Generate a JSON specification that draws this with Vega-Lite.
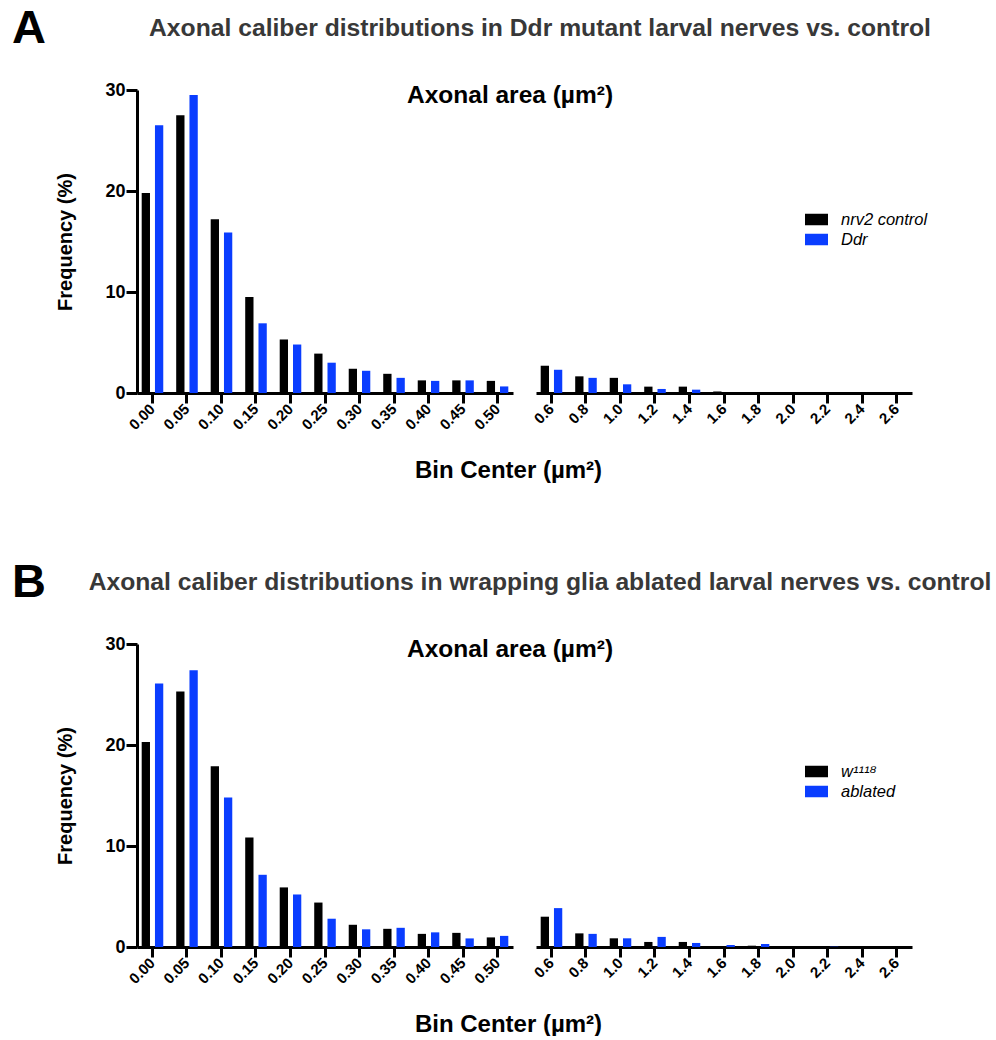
{
  "$schema": "https://vega.github.io/schema/vega-lite/v6.json",
  "padding": {"left": 12, "top": 5, "right": 0, "bottom": 0},
  "background": "white",
  "config": {
    "view": {"stroke": null},
    "font": "Liberation Sans",
    "axis": {"grid": false, "domainColor": "black", "domainWidth": 3, "tickColor": "black", "tickWidth": 3, "tickSize": 10, "labelFont": "Liberation Sans", "labelFontWeight": "bold", "labelColor": "black", "titleFont": "Liberation Sans", "titleFontWeight": "bold", "titleColor": "black"},
    "legend": {"labelFont": "Liberation Sans", "labelFontStyle": "italic", "labelFontSize": 16.5, "labelColor": "black", "symbolType": "M-1,-0.5H1V0.5H-1Z", "symbolSize": 529, "symbolStrokeWidth": 0, "rowPadding": 0, "labelOffset": 13, "padding": 0}
  },
  "datasets": {
    "A_left": [
      {"bin": "0.00", "group": "nrv2 control", "freq": 19.8}, {"bin": "0.00", "group": "Ddr", "freq": 26.5},
      {"bin": "0.05", "group": "nrv2 control", "freq": 27.5}, {"bin": "0.05", "group": "Ddr", "freq": 29.5},
      {"bin": "0.10", "group": "nrv2 control", "freq": 17.2}, {"bin": "0.10", "group": "Ddr", "freq": 15.9},
      {"bin": "0.15", "group": "nrv2 control", "freq": 9.5}, {"bin": "0.15", "group": "Ddr", "freq": 6.9},
      {"bin": "0.20", "group": "nrv2 control", "freq": 5.3}, {"bin": "0.20", "group": "Ddr", "freq": 4.8},
      {"bin": "0.25", "group": "nrv2 control", "freq": 3.9}, {"bin": "0.25", "group": "Ddr", "freq": 3.0},
      {"bin": "0.30", "group": "nrv2 control", "freq": 2.4}, {"bin": "0.30", "group": "Ddr", "freq": 2.2},
      {"bin": "0.35", "group": "nrv2 control", "freq": 1.9}, {"bin": "0.35", "group": "Ddr", "freq": 1.5},
      {"bin": "0.40", "group": "nrv2 control", "freq": 1.25}, {"bin": "0.40", "group": "Ddr", "freq": 1.2},
      {"bin": "0.45", "group": "nrv2 control", "freq": 1.25}, {"bin": "0.45", "group": "Ddr", "freq": 1.25},
      {"bin": "0.50", "group": "nrv2 control", "freq": 1.2}, {"bin": "0.50", "group": "Ddr", "freq": 0.65}
    ],
    "A_right": [
      {"bin": "0.6", "group": "nrv2 control", "freq": 2.7}, {"bin": "0.6", "group": "Ddr", "freq": 2.3},
      {"bin": "0.8", "group": "nrv2 control", "freq": 1.65}, {"bin": "0.8", "group": "Ddr", "freq": 1.5},
      {"bin": "1.0", "group": "nrv2 control", "freq": 1.5}, {"bin": "1.0", "group": "Ddr", "freq": 0.86},
      {"bin": "1.2", "group": "nrv2 control", "freq": 0.63}, {"bin": "1.2", "group": "Ddr", "freq": 0.4},
      {"bin": "1.4", "group": "nrv2 control", "freq": 0.63}, {"bin": "1.4", "group": "Ddr", "freq": 0.33},
      {"bin": "1.6", "group": "nrv2 control", "freq": 0.15}, {"bin": "1.6", "group": "Ddr", "freq": 0},
      {"bin": "1.8", "group": "nrv2 control", "freq": 0}, {"bin": "1.8", "group": "Ddr", "freq": 0},
      {"bin": "2.0", "group": "nrv2 control", "freq": 0}, {"bin": "2.0", "group": "Ddr", "freq": 0},
      {"bin": "2.2", "group": "nrv2 control", "freq": 0}, {"bin": "2.2", "group": "Ddr", "freq": 0},
      {"bin": "2.4", "group": "nrv2 control", "freq": 0}, {"bin": "2.4", "group": "Ddr", "freq": 0},
      {"bin": "2.6", "group": "nrv2 control", "freq": 0}, {"bin": "2.6", "group": "Ddr", "freq": 0}
    ],
    "B_left": [
      {"bin": "0.00", "group": "w¹¹¹⁸", "freq": 20.3}, {"bin": "0.00", "group": "ablated", "freq": 26.1},
      {"bin": "0.05", "group": "w¹¹¹⁸", "freq": 25.3}, {"bin": "0.05", "group": "ablated", "freq": 27.4},
      {"bin": "0.10", "group": "w¹¹¹⁸", "freq": 17.9}, {"bin": "0.10", "group": "ablated", "freq": 14.8},
      {"bin": "0.15", "group": "w¹¹¹⁸", "freq": 10.85}, {"bin": "0.15", "group": "ablated", "freq": 7.15},
      {"bin": "0.20", "group": "w¹¹¹⁸", "freq": 5.9}, {"bin": "0.20", "group": "ablated", "freq": 5.2},
      {"bin": "0.25", "group": "w¹¹¹⁸", "freq": 4.4}, {"bin": "0.25", "group": "ablated", "freq": 2.8},
      {"bin": "0.30", "group": "w¹¹¹⁸", "freq": 2.2}, {"bin": "0.30", "group": "ablated", "freq": 1.75},
      {"bin": "0.35", "group": "w¹¹¹⁸", "freq": 1.8}, {"bin": "0.35", "group": "ablated", "freq": 1.9},
      {"bin": "0.40", "group": "w¹¹¹⁸", "freq": 1.3}, {"bin": "0.40", "group": "ablated", "freq": 1.45},
      {"bin": "0.45", "group": "w¹¹¹⁸", "freq": 1.4}, {"bin": "0.45", "group": "ablated", "freq": 0.85},
      {"bin": "0.50", "group": "w¹¹¹⁸", "freq": 0.95}, {"bin": "0.50", "group": "ablated", "freq": 1.1}
    ],
    "B_right": [
      {"bin": "0.6", "group": "w¹¹¹⁸", "freq": 3.0}, {"bin": "0.6", "group": "ablated", "freq": 3.85},
      {"bin": "0.8", "group": "w¹¹¹⁸", "freq": 1.35}, {"bin": "0.8", "group": "ablated", "freq": 1.3},
      {"bin": "1.0", "group": "w¹¹¹⁸", "freq": 0.86}, {"bin": "1.0", "group": "ablated", "freq": 0.86},
      {"bin": "1.2", "group": "w¹¹¹⁸", "freq": 0.5}, {"bin": "1.2", "group": "ablated", "freq": 1.0},
      {"bin": "1.4", "group": "w¹¹¹⁸", "freq": 0.5}, {"bin": "1.4", "group": "ablated", "freq": 0.4},
      {"bin": "1.6", "group": "w¹¹¹⁸", "freq": 0.07}, {"bin": "1.6", "group": "ablated", "freq": 0.2},
      {"bin": "1.8", "group": "w¹¹¹⁸", "freq": 0.13}, {"bin": "1.8", "group": "ablated", "freq": 0.3},
      {"bin": "2.0", "group": "w¹¹¹⁸", "freq": 0}, {"bin": "2.0", "group": "ablated", "freq": 0},
      {"bin": "2.2", "group": "w¹¹¹⁸", "freq": 0}, {"bin": "2.2", "group": "ablated", "freq": 0.03},
      {"bin": "2.4", "group": "w¹¹¹⁸", "freq": 0.02}, {"bin": "2.4", "group": "ablated", "freq": 0},
      {"bin": "2.6", "group": "w¹¹¹⁸", "freq": 0}, {"bin": "2.6", "group": "ablated", "freq": 0}
    ]
  },
  "vconcat": [
    {
      "spacing": 9,
      "hconcat": [
        {"width": 30, "height": 10, "title": {"text": "A", "anchor": "start", "fontSize": 47, "font": "Liberation Sans", "fontWeight": "bold", "color": "black", "baseline": "alphabetic", "offset": 0}, "data": {"values": []}, "mark": "text", "encoding": {}},
        {
          "title": {"text": "Axonal caliber distributions in Ddr mutant larval nerves vs. control", "font": "Liberation Sans", "fontSize": 24.7, "fontWeight": "bold", "color": "#383838", "anchor": "middle", "dx": 48, "offset": 20, "baseline": "alphabetic"},
          "spacing": 23,
          "bounds": "flush",
          "resolve": {"scale": {"color": "independent", "xOffset": "independent", "x": "independent", "y": "independent"}, "legend": {"color": "independent"}},
          "hconcat": [
            {
              "width": 376, "height": 303,
              "data": {"name": "A_left"},
              "mark": "bar",
              "encoding": {
                "x": {"field": "bin", "type": "nominal", "sort": null, "scale": {"paddingInner": 0.375, "paddingOuter": 0.136},
                      "axis": {"title": "Bin Center (µm²)", "labelAngle": -45, "labelFontSize": 15, "labelAlign": "right", "labelBaseline": "middle", "labelPadding": 3, "titleFontSize": 24, "titleX": 371, "titleY": 84, "titleAlign": "center", "titleBaseline": "alphabetic"}},
                "xOffset": {"field": "group", "type": "nominal", "sort": ["nrv2 control", "Ddr"], "scale": {"paddingInner": 0.375, "paddingOuter": 0}},
                "y": {"field": "freq", "type": "quantitative", "scale": {"domain": [0, 30], "nice": false},
                      "axis": {"title": "Frequency (%)", "values": [0, 10, 20, 30], "labelFontSize": 18, "titleFontSize": 20, "titlePadding": 29, "tickSize": 11, "labelPadding": 1}},
                "color": {"field": "group", "type": "nominal", "scale": {"domain": ["nrv2 control", "Ddr"], "range": ["#000000", "#0a3dff"]}, "legend": null}
              }
            },
            {
              "width": 376, "height": 303,
              "data": {"name": "A_right"},
              "title": {"text": "Axonal area (µm²)", "anchor": "start", "frame": "group", "dx": -129, "dy": 24, "offset": -13, "baseline": "alphabetic", "fontSize": 24.5, "font": "Liberation Sans", "fontWeight": "bold", "color": "black"},
              "mark": "bar",
              "encoding": {
                "x": {"field": "bin", "type": "nominal", "sort": null, "scale": {"paddingInner": 0.375, "paddingOuter": 0.136},
                      "axis": {"title": null, "labelAngle": -45, "labelFontSize": 15, "labelAlign": "right", "labelBaseline": "middle", "labelPadding": 3}},
                "xOffset": {"field": "group", "type": "nominal", "sort": ["nrv2 control", "Ddr"], "scale": {"paddingInner": 0.375, "paddingOuter": 0}},
                "y": {"field": "freq", "type": "quantitative", "scale": {"domain": [0, 30], "nice": false}, "axis": null},
                "color": {"field": "group", "type": "nominal", "scale": {"domain": ["nrv2 control", "Ddr"], "range": ["#000000", "#0a3dff"]},
                          "legend": {"title": null, "orient": "none", "legendX": 269, "legendY": 118}}
              }
            }
          ]
        }
      ]
    },
    {
      "spacing": 9,
      "hconcat": [
        {"width": 30, "height": 10, "title": {"text": "B", "anchor": "start", "fontSize": 47, "font": "Liberation Sans", "fontWeight": "bold", "color": "black", "baseline": "alphabetic", "offset": 0}, "data": {"values": []}, "mark": "text", "encoding": {}},
        {
          "title": {"text": "Axonal caliber distributions in wrapping glia ablated larval nerves vs. control", "font": "Liberation Sans", "fontSize": 24.7, "fontWeight": "bold", "color": "#383838", "anchor": "middle", "dx": 56, "offset": 20, "baseline": "alphabetic"},
          "spacing": 23,
          "bounds": "flush",
          "resolve": {"scale": {"color": "independent", "xOffset": "independent", "x": "independent", "y": "independent"}, "legend": {"color": "independent"}},
          "hconcat": [
            {
              "width": 376, "height": 303,
              "data": {"name": "B_left"},
              "mark": "bar",
              "encoding": {
                "x": {"field": "bin", "type": "nominal", "sort": null, "scale": {"paddingInner": 0.375, "paddingOuter": 0.136},
                      "axis": {"title": "Bin Center (µm²)", "labelAngle": -45, "labelFontSize": 15, "labelAlign": "right", "labelBaseline": "middle", "labelPadding": 3, "titleFontSize": 24, "titleX": 371, "titleY": 84, "titleAlign": "center", "titleBaseline": "alphabetic"}},
                "xOffset": {"field": "group", "type": "nominal", "sort": ["w¹¹¹⁸", "ablated"], "scale": {"paddingInner": 0.375, "paddingOuter": 0}},
                "y": {"field": "freq", "type": "quantitative", "scale": {"domain": [0, 30], "nice": false},
                      "axis": {"title": "Frequency (%)", "values": [0, 10, 20, 30], "labelFontSize": 18, "titleFontSize": 20, "titlePadding": 29, "tickSize": 11, "labelPadding": 1}},
                "color": {"field": "group", "type": "nominal", "scale": {"domain": ["w¹¹¹⁸", "ablated"], "range": ["#000000", "#0a3dff"]}, "legend": null}
              }
            },
            {
              "width": 376, "height": 303,
              "data": {"name": "B_right"},
              "title": {"text": "Axonal area (µm²)", "anchor": "start", "frame": "group", "dx": -129, "dy": 24, "offset": -13, "baseline": "alphabetic", "fontSize": 24.5, "font": "Liberation Sans", "fontWeight": "bold", "color": "black"},
              "mark": "bar",
              "encoding": {
                "x": {"field": "bin", "type": "nominal", "sort": null, "scale": {"paddingInner": 0.375, "paddingOuter": 0.136},
                      "axis": {"title": null, "labelAngle": -45, "labelFontSize": 15, "labelAlign": "right", "labelBaseline": "middle", "labelPadding": 3}},
                "xOffset": {"field": "group", "type": "nominal", "sort": ["w¹¹¹⁸", "ablated"], "scale": {"paddingInner": 0.375, "paddingOuter": 0}},
                "y": {"field": "freq", "type": "quantitative", "scale": {"domain": [0, 30], "nice": false}, "axis": null},
                "color": {"field": "group", "type": "nominal", "scale": {"domain": ["w¹¹¹⁸", "ablated"], "range": ["#000000", "#0a3dff"]},
                          "legend": {"title": null, "orient": "none", "legendX": 269, "legendY": 116}}
              }
            }
          ]
        }
      ]
    }
  ],
  "spacing": 77
}
